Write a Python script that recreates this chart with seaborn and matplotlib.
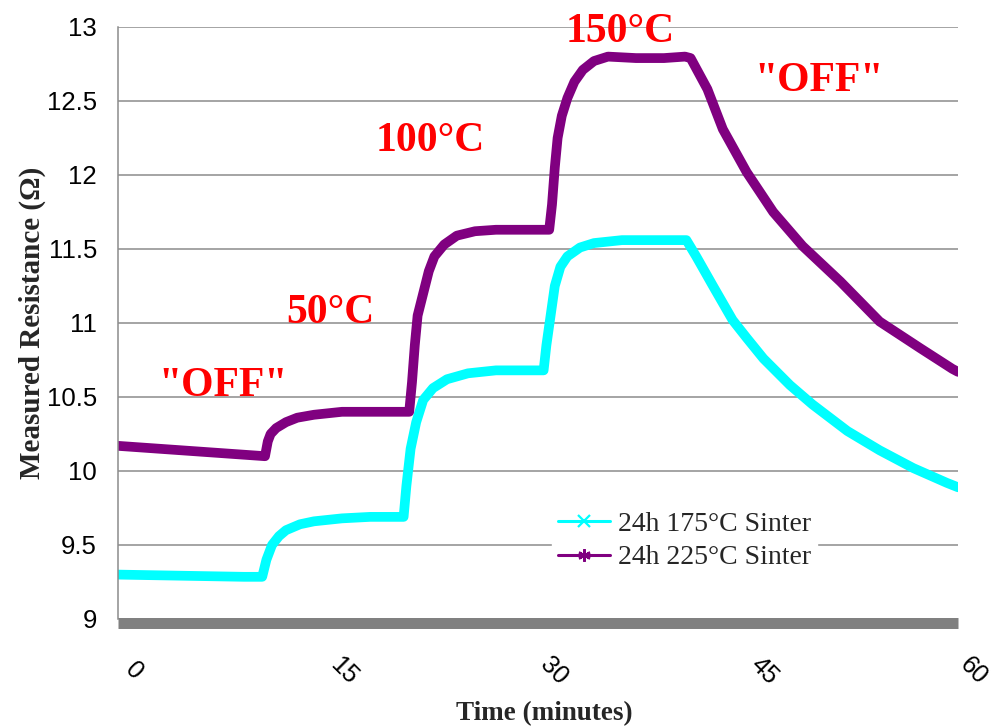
import numpy as np
import pandas as pd
import matplotlib
matplotlib.use("Agg")
import matplotlib.pyplot as plt
from matplotlib.lines import Line2D
import seaborn as sns

# Resistance readings (minutes, ohms)
time_175 = [0, 3, 6, 9, 10.3, 10.6, 11.0, 11.5, 12.0, 13.0, 14.0, 16.0, 18.0, 20.4,
            20.6, 20.9, 21.3, 21.8, 22.5, 23.5, 25.0, 27.0, 30.4, 30.6, 30.9, 31.2,
            31.6, 32.1, 33.0, 34.0, 36.0, 38.0, 40.6, 41.3, 42.5, 43.9, 44.9, 46.1,
            48.0, 49.6, 52.1, 54.4, 56.8, 59.2, 60.0]
res_175 = [9.30, 9.295, 9.29, 9.285, 9.285, 9.40, 9.50, 9.56, 9.60, 9.64, 9.66, 9.68,
           9.69, 9.69, 9.90, 10.15, 10.33, 10.48, 10.56, 10.62, 10.66, 10.68, 10.68,
           10.85, 11.05, 11.25, 11.38, 11.45, 11.51, 11.54, 11.56, 11.56, 11.56, 11.45,
           11.25, 11.02, 10.90, 10.76, 10.58, 10.45, 10.27, 10.14, 10.02, 9.92, 9.89]

time_225 = [0, 3, 6, 9, 10.5, 10.7, 10.9, 11.3, 12.0, 12.8, 14.0, 16.0, 18.5, 20.8,
            21.0, 21.2, 21.4, 21.8, 22.2, 22.6, 23.3, 24.2, 25.5, 27.0, 30.8, 31.0,
            31.2, 31.4, 31.7, 32.1, 32.6, 33.2, 34.0, 35.0, 37.0, 39.0, 40.5, 40.9,
            42.1, 43.2, 44.9, 46.8, 48.9, 51.6, 54.4, 57.3, 59.6, 60.0]
res_225 = [10.17, 10.15, 10.13, 10.11, 10.10, 10.20, 10.25, 10.29, 10.33, 10.36, 10.38,
           10.40, 10.40, 10.40, 10.60, 10.85, 11.05, 11.20, 11.35, 11.45, 11.53, 11.59,
           11.62, 11.63, 11.63, 11.80, 12.05, 12.25, 12.40, 12.52, 12.63, 12.71, 12.77,
           12.80, 12.79, 12.79, 12.80, 12.79, 12.58, 12.31, 12.02, 11.75, 11.52, 11.28,
           11.01, 10.83, 10.69, 10.67]

series_names = ["24h 175\u00b0C Sinter", "24h 225\u00b0C Sinter"]
series_colors = ["#00FFFF", "#800080"]
series_markers = ["x", (6, 2, 0)]

x_ticks = [0, 15, 30, 45, 60]
y_ticks = [9, 9.5, 10, 10.5, 11, 11.5, 12, 12.5, 13]

stage_labels = ['"OFF"', "50\u00b0C", "100\u00b0C", "150\u00b0C", '"OFF"']
stage_x = [7.5, 15.2, 22.3, 35.9, 50.1]
stage_y = [10.51, 11.00, 12.16, 12.90, 12.57]

df = pd.concat([
    pd.DataFrame({"time": time_175, "res": res_175, "series": series_names[0]}),
    pd.DataFrame({"time": time_225, "res": res_225, "series": series_names[1]}),
])

sns.set_style("white")
plt.rcParams["font.family"] = ["Liberation Sans", "DejaVu Sans"]
serif = ["Liberation Serif", "DejaVu Serif"]

fig = plt.figure(figsize=(9.97, 7.28), dpi=100)
ax = fig.add_axes([118 / 997, 109 / 728, 840 / 997, 592 / 728])

sns.lineplot(data=df, x="time", y="res", hue="series", palette=series_colors,
             hue_order=series_names, sort=False, estimator=None, lw=7.0,
             legend=False, ax=ax)
for line in ax.get_lines():
    line.set_solid_joinstyle("round")

ax.set_xlim(0, 60)
ax.set_ylim(9, 13)
ax.set_xticks(x_ticks)
ax.set_xticklabels([])
ax.set_yticks(y_ticks)
ax.set_yticklabels([f"{v:g}" for v in y_ticks])

# rotated time labels sitting below the thick base line
for v in x_ticks:
    ax.annotate(str(v), xy=(v, 9), xycoords="data", xytext=(11.5, -37.4),
                textcoords="offset points", rotation=-45, ha="center", va="center",
                fontsize=18, color="black", annotation_clip=False)

grid_color = "#8c8c8c"
ax.yaxis.grid(True, color=grid_color, lw=1.1)
ax.xaxis.grid(False)
ax.set_axisbelow(True)
for side in ["top", "right"]:
    ax.spines[side].set_visible(False)
ax.spines["left"].set_color(grid_color)
ax.spines["left"].set_linewidth(1.1)
ax.spines["bottom"].set_color("#808080")
ax.spines["bottom"].set_linewidth(7.9)
ax.spines["bottom"].set_position(("outward", 3.2))
ax.spines["bottom"].set_capstyle("butt")
ax.spines["bottom"].set_zorder(5)
ax.tick_params(axis="y", direction="out", length=5.8, width=1.1, color=grid_color,
               pad=9.4, labelsize=18.5, labelcolor="black")
ax.tick_params(axis="x", length=0, pad=0)

ax.set_ylabel("Measured Resistance (\u03a9)", family=serif, fontweight="bold",
              fontsize=21)
ax.yaxis.set_label_coords(-0.086, 0.5)
ax.set_xlabel("Time (minutes)", family=serif, fontweight="bold", fontsize=19.5)
ax.xaxis.set_label_coords(0.508, -0.138)

for txt, xv, yv in zip(stage_labels, stage_x, stage_y):
    ax.text(xv, yv, txt, color="#FF0000", fontsize=30, fontweight="bold",
            family=serif, ha="center", va="baseline", clip_on=False, zorder=6)

handles = [Line2D([0], [0], color=c, lw=2.2, marker=m, markersize=9, mew=1.6)
           for c, m in zip(series_colors, series_markers)]
leg = ax.legend(handles, series_names, loc="center left", bbox_to_anchor=(0.517, 0.132),
                frameon=True, fancybox=False, framealpha=1, edgecolor="white",
                facecolor="white", handlelength=1.87, handletextpad=0.29,
                labelspacing=0.3, borderpad=0.2, borderaxespad=0,
                prop={"family": serif, "size": 20})

fig.savefig("out.png", dpi=100)
